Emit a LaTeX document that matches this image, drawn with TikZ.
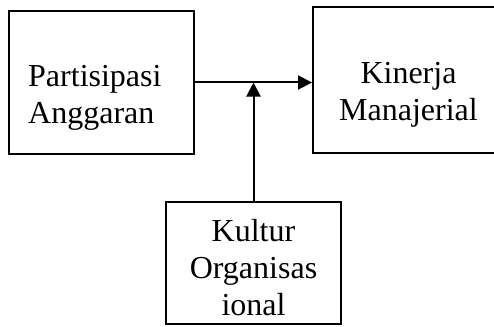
\documentclass[tikz,border=0pt]{standalone}
\usepackage{fontspec}
\setmainfont{Liberation Serif}
\usepackage{tikz}
\usetikzlibrary{arrows.meta, positioning, calc}

\begin{document}
\begin{tikzpicture}[
    x=1pt, y=-1pt,
    blok/.style={draw, line width=2pt, inner sep=0pt},
    lbl/.style={inner sep=0pt, font=\fontsize{32}{37}\selectfont},
    panah/.style={line width=2pt, -{Triangle[length=14pt,width=14pt]}},
]
\clip (0,0) rectangle (494,326);
% kotak variabel
\node[blok, minimum width=185pt, minimum height=143pt] (partisipasi) at (101.5,82.5) {};
\node[blok, minimum width=191pt, minimum height=146pt] (kinerja) at (408.5,80) {};
\node[blok, minimum width=175pt, minimum height=122pt] (kultur) at (253.5,263) {};
% teks
\node[lbl, align=left, anchor=west] (partisipasi-txt) at (28,98) {Partisipasi\\Anggaran};
\node[lbl, align=center] (kinerja-txt) at (408.5,94.5) {Kinerja\\Manajerial};
\node[lbl, align=center] (kultur-txt) at (253.5,267.5) {Kultur\\Organisas\\ional};
% panah
\draw[panah] (partisipasi.east) -- (partisipasi.east -| kinerja.west);
\draw[panah] (kultur.north) -- (kultur.north |- partisipasi.east);
\end{tikzpicture}
\end{document}
